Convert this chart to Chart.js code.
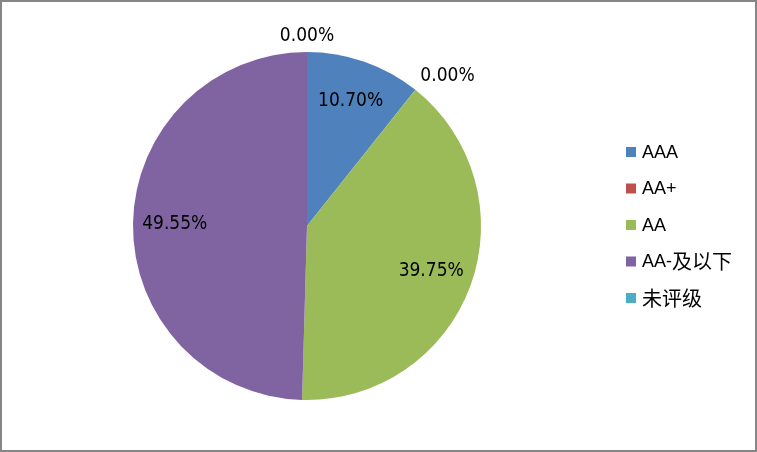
<!DOCTYPE html>
<html>
<head>
<meta charset="utf-8">
<script src="https://cdn.jsdelivr.net/npm/chart.js@4"></script>
<style>
  html, body { margin: 0; padding: 0; background: #fff; }
  #wrap { width: 757px; height: 452px; }
</style>
</head>
<body>
<div id="wrap"><canvas id="pie" width="757" height="452"></canvas></div>
<script>
let ratings = ['AAA', 'AA+', 'AA', 'AA-及以下', '未评级']
let shares = [10.70, 0.00, 39.75, 49.55, 0.00]
let colors = ['#4F81BD', '#C0504D', '#9BBB59', '#8064A2', '#4BACC6']

// white background + grey frame
let frame = {
  id: 'frame',
  beforeDraw(chart) {
    let c = chart.ctx
    c.save()
    c.fillStyle = '#fff'
    c.fillRect(0, 0, chart.width, chart.height)
    c.strokeStyle = '#868686'
    c.lineWidth = 2
    c.strokeRect(1, 1, chart.width - 2, chart.height - 2)
    c.restore()
  }
}

// percent labels, inside for real slices, outside for empty ones
let pieLabels = {
  id: 'pieLabels',
  afterDatasetsDraw(chart) {
    let c = chart.ctx
    let meta = chart.getDatasetMeta(0)
    c.save()
    c.font = '19px "DejaVu Sans Condensed", "DejaVu Sans"'
    c.fillStyle = '#000'
    meta.data.forEach((arc, i) => {
      let v = shares[i]
      let mid = (arc.startAngle + arc.endAngle) / 2
      let cos = Math.cos(mid), sin = Math.sin(mid)
      let text = v.toFixed(2) + '%'
      if (v > 0) {
        let d = arc.outerRadius * 0.76
        c.textAlign = 'center'
        c.textBaseline = 'middle'
        c.fillText(text, arc.x + cos * d, arc.y + sin * d)
      } else {
        let d = arc.outerRadius + 8
        c.textAlign = Math.abs(cos) < 0.2 ? 'center' : (cos > 0 ? 'left' : 'right')
        c.textBaseline = sin < 0 ? 'bottom' : 'top'
        c.fillText(text, arc.x + cos * d, arc.y + sin * d + (sin < 0 ? 2 : 0))
      }
    })
    c.restore()
  }
}

// draw a label with latin and CJK runs at their own sizes
function mixedText(c, str, x, y) {
  let runs = str.match(/[\u4e00-\u9fff]+|[^\u4e00-\u9fff]+/g)
  runs.forEach(r => {
    let cjk = /[\u4e00-\u9fff]/.test(r)
    c.font = cjk ? '20px "Noto Sans CJK SC"' : '18px "Liberation Sans"'
    c.fillText(r, x, cjk ? y - 1 : y)
    x += c.measureText(r).width
  })
}

// legend on the right, like the office chart
let sideLegend = {
  id: 'sideLegend',
  afterDraw(chart) {
    let c = chart.ctx
    c.save()
    c.textAlign = 'left'
    c.textBaseline = 'middle'
    ratings.forEach((name, i) => {
      let y = 152 + i * 36.5
      c.fillStyle = colors[i]
      c.fillRect(626, y - 5, 10, 10)
      c.fillStyle = '#000'
      mixedText(c, name, 642, y + 1)
    })
    c.restore()
  }
}

new Chart(document.getElementById('pie'), {
  type: 'pie',
  data: {
    labels: ratings,
    datasets: [{
      data: shares,
      backgroundColor: colors,
      borderWidth: 0
    }]
  },
  options: {
    responsive: false,
    animation: false,
    layout: { padding: { left: 133, right: 276, top: 52, bottom: 52 } },
    plugins: {
      legend: { display: false },
      tooltip: { enabled: false }
    }
  },
  plugins: [frame, pieLabels, sideLegend]
})
</script>
</body>
</html>
